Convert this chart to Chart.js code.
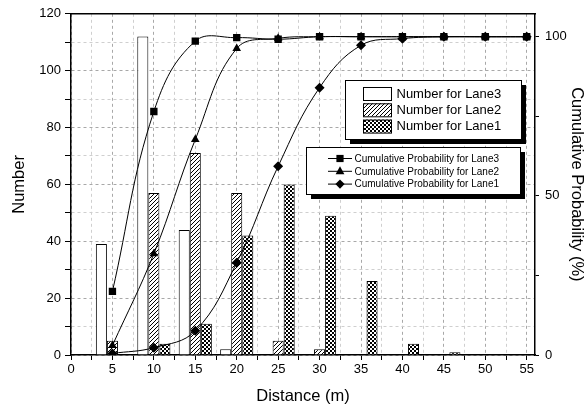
<!DOCTYPE html>
<html>
<head>
<meta charset="utf-8">
<title>Distance distribution</title>
<script src="https://cdn.jsdelivr.net/npm/chart.js@4.4.1/dist/chart.umd.min.js"></script>
<style>
    html, body { margin: 0; padding: 0; background: #fff; }
    #wrap { width: 588px; height: 406px; position: relative; }
</style>
</head>
<body>
<div id="wrap"><canvas id="chart"></canvas></div>
<script>
// ======================================
// Data
// ======================================
const distances = [5, 10, 15, 20, 25, 30, 35, 40, 45];
const lane3Count = [39, 112, 44, 2, 0, 0, 0, 0, 0];
const lane2Count = [5, 57, 71, 57, 5, 2, 0, 0, 0];
const lane1Count = [0, 4, 11, 42, 60, 49, 26, 4, 1];

const cumDistances = [5, 10, 15, 20, 25, 30, 35, 40, 45, 50, 55];
const lane3Cum = [20, 76.5, 98.6, 99.7, 99.2, 100, 100, 100, 100, 100, 100];
const lane2Cum = [3, 31.8, 67.7, 96.3, 99.5, 100, 100, 100, 100, 100, 100];
const lane1Cum = [0.5, 2.3, 7.6, 29, 59.3, 84, 97.3, 99.4, 100, 100, 100];

const xLabels = [0, 5, 10, 15, 20, 25, 30, 35, 40, 45, 50, 55];
const leftLabels = [0, 20, 40, 60, 80, 100, 120];
const rightLabels = [0, 50, 100];

const barNames = ["Number for Lane3", "Number for Lane2", "Number for Lane1"];
const lineNames = ["Cumulative Probability for Lane3", "Cumulative Probability for Lane2", "Cumulative Probability for Lane1"];

const FONT = "'Liberation Sans', Arial, sans-serif";

// ======================================
// Fill patterns
// ======================================
function makeHatch() {
    const c = document.createElement("canvas");
    c.width = 4; c.height = 4;
    const g = c.getContext("2d");
    g.fillStyle = "#fff";
    g.fillRect(0, 0, 4, 4);
    g.strokeStyle = "#000";
    g.lineWidth = 1;
    g.beginPath();
    g.moveTo(0, 4); g.lineTo(4, 0);
    g.moveTo(-1, 1); g.lineTo(1, -1);
    g.moveTo(3, 5); g.lineTo(5, 3);
    g.stroke();
    return g.createPattern(c, "repeat");
}

function makeChecker() {
    const c = document.createElement("canvas");
    c.width = 4; c.height = 4;
    const g = c.getContext("2d");
    g.fillStyle = "#fff";
    g.fillRect(0, 0, 4, 4);
    g.fillStyle = "#000";
    g.fillRect(0, 0, 2, 2);
    g.fillRect(2, 2, 2, 2);
    return g.createPattern(c, "repeat");
}

const hatch = makeHatch();
const checker = makeChecker();
const barFills = ["#fff", hatch, checker];
const markers = ["rect", "triangle", "rectRot"];

function pts(xs, ys) {
    return xs.map((x, i) => ({x: x, y: ys[i]}));
}

// ======================================
// Legend boxes (two framed boxes with shadow)
// ======================================
function drawMarker(ctx, style, x, y) {
    ctx.beginPath();
    if (style === "rect") {
        ctx.rect(x - 3.6, y - 3.6, 7.2, 7.2);
    } else if (style === "triangle") {
        ctx.moveTo(x, y - 5);
        ctx.lineTo(x + 4.4, y + 3);
        ctx.lineTo(x - 4.4, y + 3);
        ctx.closePath();
    } else {
        ctx.moveTo(x, y - 4.6);
        ctx.lineTo(x + 4.6, y);
        ctx.lineTo(x, y + 4.6);
        ctx.lineTo(x - 4.6, y);
        ctx.closePath();
    }
    ctx.fill();
}

function framedBox(ctx, x, y, w, h) {
    ctx.fillStyle = "#000";
    ctx.fillRect(x + 5, y + 5, w, h);
    ctx.fillStyle = "#fff";
    ctx.fillRect(x, y, w, h);
    ctx.strokeStyle = "#000";
    ctx.lineWidth = 1;
    ctx.strokeRect(x + 0.5, y + 0.5, w, h);
}

const legendBoxes = {
    id: "legendBoxes",
    afterDraw(chart) {
        const ctx = chart.ctx;
        ctx.save();

        framedBox(ctx, 345, 80, 176, 59);
        ctx.font = "13px " + FONT;
        ctx.textBaseline = "middle";
        barNames.forEach((name, i) => {
            const top = 87 + i * 16.3;
            ctx.fillStyle = barFills[i];
            ctx.fillRect(363.5, top, 28, 13);
            ctx.strokeStyle = "#000";
            ctx.strokeRect(363.5, top + 0.5, 28, 13);
            ctx.fillStyle = "#000";
            ctx.fillText(name, 396.5, top + 7);
        });

        framedBox(ctx, 306, 147, 214, 47);
        ctx.font = "10px " + FONT;
        lineNames.forEach((name, i) => {
            const y = 158.5 + i * 12.8;
            ctx.strokeStyle = "#000";
            ctx.beginPath();
            ctx.moveTo(328, y);
            ctx.lineTo(352, y);
            ctx.stroke();
            ctx.fillStyle = "#000";
            drawMarker(ctx, markers[i], 340, y);
            ctx.fillText(name, 354.5, y + 0.5);
        });

        ctx.restore();
    }
};

// ======================================
// Chart
// ======================================
const tickFont = {family: FONT, size: 13};
const titleFont = {family: FONT, size: 16.5};

// bar width is measured against the 2.5-unit minor tick spacing,
// so a group spans 1.6 of that (= 4 of the 5 units between distances)
const barSets = [lane3Count, lane2Count, lane1Count].map((vals, i) => ({
    type: "bar",
    label: barNames[i],
    data: pts(distances, vals),
    backgroundColor: barFills[i],
    borderColor: "#000",
    borderWidth: 1,
    categoryPercentage: 1.6,
    barPercentage: 1.0,
    yAxisID: "y",
    order: 2
}));

const lineSets = [lane3Cum, lane2Cum, lane1Cum].map((vals, i) => ({
    type: "line",
    label: lineNames[i],
    data: pts(cumDistances, vals),
    borderColor: "#000",
    borderWidth: 1,
    backgroundColor: "#000",
    pointStyle: markers[i],
    pointRadius: i === 0 ? 5.2 : 5,
    pointBorderWidth: 0,
    tension: 0.4,
    fill: false,
    yAxisID: "y1",
    order: 1
}));

new Chart(document.getElementById("chart"), {
    type: "bar",
    data: {datasets: [...barSets, ...lineSets]},
    options: {
        responsive: true,
        maintainAspectRatio: false,
        animation: false,
        devicePixelRatio: 1,
        layout: {padding: {top: 12, left: 0, right: 0, bottom: 0}},
        plugins: {
            legend: {display: false},
            tooltip: {enabled: false}
        },
        scales: {
            x: {
                type: "linear",
                position: "bottom",
                min: 0,
                max: 56,
                offset: false,
                afterFit: s => { s.height = 51; },
                ticks: {
                    stepSize: 2.5,
                    includeBounds: false,
                    autoSkip: false,
                    maxRotation: 0,
                    padding: 2,
                    color: "#000",
                    font: tickFont,
                    callback: v => xLabels.includes(v) ? v : ""
                },
                grid: {
                    offset: false,
                    color: c => (c.tick && c.tick.value % 5 === 0) ? "#a8a8a8" : "#cfcfcf",
                    tickColor: "#000",
                    tickLength: 5
                },
                border: {color: "#000", width: 1.5, dash: [3, 3]},
                title: {display: true, text: "Distance (m)", color: "#000", font: titleFont, padding: {top: 0, bottom: 0}}
            },
            xTop: {
                type: "linear",
                position: "top",
                min: 0,
                max: 56,
                afterFit: s => { s.height = 0; },
                ticks: {display: false},
                grid: {display: false},
                border: {color: "#000", width: 1.5}
            },
            y: {
                type: "linear",
                position: "left",
                min: 0,
                max: 120,
                afterFit: s => { s.width = 71; },
                ticks: {
                    stepSize: 10,
                    padding: 4,
                    color: "#000",
                    font: tickFont,
                    callback: v => leftLabels.includes(v) ? v : ""
                },
                grid: {
                    color: c => (c.tick && c.tick.value % 20 === 0) ? "#a8a8a8" : "#cfcfcf",
                    tickColor: "#000",
                    tickLength: 6
                },
                border: {color: "#000", width: 1.5, dash: [3, 3]},
                title: {display: true, text: "Number", color: "#000", font: titleFont, padding: {top: 10, bottom: 0}}
            },
            y1: {
                type: "linear",
                position: "right",
                min: 0,
                max: 107.2,
                afterFit: s => { s.width = 53; },
                ticks: {
                    stepSize: 25,
                    includeBounds: false,
                    padding: 6,
                    color: "#000",
                    font: tickFont,
                    callback: v => rightLabels.includes(v) ? v : ""
                },
                grid: {drawOnChartArea: false, tickColor: "#000", tickLength: 4},
                border: {color: "#000", width: 1.5},
                title: {display: true, text: "Cumulative Probability (%)", color: "#000", font: titleFont, padding: {top: 2, bottom: 0}}
            }
        }
    },
    plugins: [legendBoxes]
});
</script>
</body>
</html>
